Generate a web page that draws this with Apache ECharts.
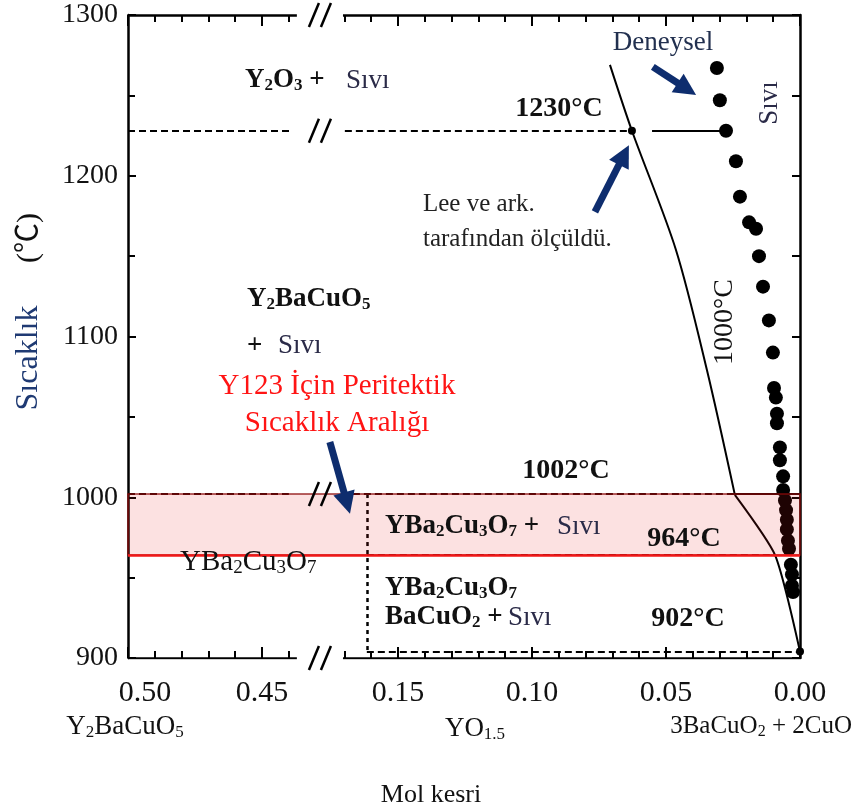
<!DOCTYPE html>
<html><head><meta charset="utf-8">
<script src="https://cdn.jsdelivr.net/npm/echarts@6/dist/echarts.min.js"></script>
<style>html,body{margin:0;padding:0;background:#fff}#c{width:857px;height:809px}</style>
</head><body><div id="c"></div>
<script>
// ---------------- data ----------------
const yTickValues = [900, 1000, 1100, 1200, 1300];
const xLabelValues = [0.50, 0.45, 0.15, 0.10, 0.05, 0.00];
const xMinorLeft = [0.49, 0.48, 0.47, 0.46, 0.44];
const xMinorRight = [0.17, 0.16, 0.14, 0.13, 0.12, 0.11, 0.09, 0.08, 0.07, 0.06, 0.04, 0.03, 0.02, 0.01];
// liquidus (solid curve): upper part and lower part (kink at 1002)
const liqUpperV = [0.0709, 0.0627, 0.0463, 0.0347, 0.0243];
const liqUpperT = [1269, 1228, 1154, 1079, 1001.5];
const liqLowerV = [0.0243, 0.0093, 0.0];
const liqLowerT = [1001.5, 964, 904];
// experimental points (Deneysel)
const expV = [0.0310, 0.0299, 0.0276, 0.0239, 0.0224, 0.0190, 0.0164, 0.0153, 0.0138, 0.0116, 0.0101, 0.0097, 0.0090, 0.0086, 0.0086, 0.0075, 0.0075, 0.0063, 0.0063, 0.0056, 0.0052, 0.0049, 0.0049, 0.0045, 0.0041, 0.0034, 0.0030, 0.0030, 0.0026];
const expT = [1267, 1247, 1228, 1209, 1187, 1171, 1167, 1150, 1131, 1110, 1090, 1068, 1062, 1052, 1046, 1031, 1023, 1013, 1004.5, 998, 992, 986, 980, 973, 968, 958, 952, 945, 941];
// small points
const smallPtV = [0.0627, 0.0];
const smallPtT = [1228, 904];
// isotherm segments [vFrom, vTo, T]
const dashedSegs = [[0.50, 0.439, 1228], [0.1698, 0.0627, 1228], [0.50, 0.440, 1002], [0.1668, 0.0243, 1002], [0.1616, 0.0093, 964], [0.1616, 0.0, 904]];
const solidSegs = [[0.0552, 0.0276, 1228], [0.0243, 0.0, 1002]];
const dottedV = [0.1616, 1002, 904]; // v, T from, T to
const bandT = [1002, 964];
// arrows [vTail, TTail, vHead, THead]
const arrows = [[0.0549, 1267.7, 0.0422, 1254], [0.0765, 1177.5, 0.0657, 1212.9], [0.1754, 1034.4, 0.1690, 996.4]];
// axis break positions (T values where the // marks are)
const breakT = [1300, 1228, 1002, 900];
const breakV = 0.1791;
// ---------------- axis break mapping ----------------
const RCUT = 0.1705, LCUT = 0.437, GAP = 0.0172;
const SHIFT = LCUT - RCUT - GAP;
const toU = v => (v < 0.3 ? v : v - SHIFT);
const fromU = u => (u > RCUT + GAP / 2 ? u + SHIFT : u);
const UMAX = toU(0.5);

const F = "'Liberation Serif','Times New Roman',serif";
const FC = "'Liberation Serif','Noto Sans CJK SC',serif";
const INK = '#111';
const NAVY = '#0e2d6e';

const chart = echarts.init(document.getElementById('c'), null, {renderer: 'canvas'});

function seg(a) { return {coords: [[toU(a[0]), a[2]], [toU(a[1]), a[2]]]}; }

function xa(pos, ticks, len, withLabels) {
  return {
    type: 'value', position: pos, min: 0, max: UMAX, inverse: true,
    axisLine: {show: false, onZero: false},
    splitLine: {show: false},
    axisTick: {show: true, inside: true, length: len, customValues: ticks.map(toU), lineStyle: {color: '#000', width: 2}},
    axisLabel: withLabels ? {
      show: true, margin: 20,
      customValues: xLabelValues.map(toU),
      formatter: u => {
        const v = fromU(u);
        const s = (Math.round(v * 100) / 100).toFixed(2);
        return Math.abs(v - 0.5) < 1e-6 ? '{p|' + s + '}' : '{n|' + s + '}';
      },
      rich: {
        p: {fontSize: 30, fontFamily: F, color: INK, padding: [0, 0, 0, 34]},
        n: {fontSize: 30, fontFamily: F, color: INK}
      }
    } : {show: false}
  };
}

function richSet(fs, fw, c) {
  return {
    m: {fontSize: fs, fontWeight: fw, fontFamily: F, fill: c, lineHeight: fs + 2},
    s: {fontSize: Math.round(fs * 0.64), fontWeight: fw, fontFamily: F, fill: c, verticalAlign: 'bottom', lineHeight: Math.round(fs * 0.5)}
  };
}
function txt(x, y, text, o) {
  o = o || {};
  return {
    type: 'text', x: x, y: y, rotation: o.rot || 0, z: 100,
    style: {
      text: text, fontFamily: o.ff || F, fontSize: o.fs || 28, fontWeight: o.fw || 'normal',
      fill: o.c || INK, align: o.al || 'left', verticalAlign: 'middle',
      textAlign: o.al || 'left', textVerticalAlign: 'middle', rich: o.rich
    }
  };
}
const RB = richSet(27, 'bold', INK);
const RN = richSet(29, 'normal', INK);
const RL = richSet(27, 'normal', INK);
const RS = richSet(25, 'normal', INK);
const SIVI = '#2b2b48';
const RED = '#ff1414';

const texts = [
  txt(245, 80, '{m|Y}{s|2}{m|O}{s|3}{m| +}', {rich: RB}),
  txt(346, 81, 'Sıvı', {fs: 27, c: SIVI}),
  txt(559, 109, '1230°C', {fw: 'bold', al: 'center'}),
  txt(663, 43, 'Deneysel', {fs: 27, c: '#22304f', al: 'center'}),
  txt(770, 103, 'Sıvı', {fs: 27, c: SIVI, al: 'center', rot: Math.PI / 2}),
  txt(423, 204, 'Lee ve ark.', {fs: 25, c: '#222'}),
  txt(423, 239, 'tarafından ölçüldü.', {fs: 25, c: '#222'}),
  txt(247, 299, '{m|Y}{s|2}{m|BaCuO}{s|5}', {rich: RB}),
  txt(247, 346, '+', {fw: 'bold', fs: 27}),
  txt(278, 346, 'Sıvı', {fs: 27, c: SIVI}),
  txt(337, 386, 'Y123 İçin Peritektik', {fs: 29, c: RED, al: 'center'}),
  txt(337, 423, 'Sıcaklık Aralığı', {fs: 29, c: RED, al: 'center'}),
  txt(566, 471, '1002°C', {fw: 'bold', al: 'center'}),
  txt(725, 322, '1000°C', {al: 'center', rot: Math.PI / 2}),
  txt(385, 526, '{m|YBa}{s|2}{m|Cu}{s|3}{m|O}{s|7}{m| +}', {rich: RB}),
  txt(557, 527, 'Sıvı', {fs: 27, c: SIVI}),
  txt(684, 539, '964°C', {fw: 'bold', al: 'center'}),
  txt(180, 562, '{m|YBa}{s|2}{m|Cu}{s|3}{m|O}{s|7}', {rich: RN}),
  txt(385, 588, '{m|YBa}{s|2}{m|Cu}{s|3}{m|O}{s|7}', {rich: RB}),
  txt(385, 617, '{m|BaCuO}{s|2}{m| +}', {rich: RB}),
  txt(508, 618, 'Sıvı', {fs: 27, c: SIVI}),
  txt(688, 619, '902°C', {fw: 'bold', al: 'center'}),
  txt(125, 727, '{m|Y}{s|2}{m|BaCuO}{s|5}', {rich: RL, al: 'center'}),
  txt(475, 729, '{m|YO}{s|1.5}', {rich: RL, al: 'center'}),
  txt(852, 726, '{m|3BaCuO}{s|2}{m| + 2CuO}', {rich: RS, al: 'right'}),
  txt(431, 795, 'Mol kesri', {fs: 26, al: 'center'}),
  txt(29, 358, 'Sıcaklık', {fs: 32, c: '#1f3a73', al: 'center', rot: Math.PI / 2}),
  txt(29, 238, '(℃)', {fs: 30, ff: FC, al: 'center', rot: Math.PI / 2})
];

const option = {
  backgroundColor: '#fff',
  animation: false,
  grid: {left: 128, top: 15, width: 672, height: 643, containLabel: false, outerBoundsMode: 'none'},
  xAxis: [
    xa('bottom', xLabelValues, 11, true),
    xa('bottom', xMinorLeft.concat(xMinorRight), 7, false),
    xa('top', xLabelValues, 11, false),
    xa('top', xMinorLeft.concat(xMinorRight), 7, false)
  ],
  yAxis: [
    {
      type: 'value', min: 900, max: 1300, interval: 100, position: 'left',
      axisLine: {show: true, onZero: false, lineStyle: {color: '#000', width: 2.5}},
      axisTick: {show: true, inside: true, length: 8, lineStyle: {color: '#000', width: 2}},
      minorTick: {show: true, splitNumber: 2, length: 7, lineStyle: {color: '#000', width: 2}},
      splitLine: {show: false}, minorSplitLine: {show: false},
      axisLabel: {fontSize: 28, fontFamily: F, color: INK, margin: 10, padding: [10, 0, 0, 0],
        formatter: v => (yTickValues.indexOf(v) >= 0 ? String(v) : '')}
    },
    {
      type: 'value', min: 900, max: 1300, interval: 50, position: 'right',
      axisLine: {show: true, onZero: false, lineStyle: {color: '#000', width: 2.5}},
      axisTick: {show: true, inside: true, length: 8, lineStyle: {color: '#000', width: 2}},
      splitLine: {show: false}, axisLabel: {show: false}
    }
  ],
  graphic: texts,
  series: [
    { // frame top/bottom with break
      type: 'lines', coordinateSystem: 'cartesian2d', z: 3, silent: true,
      lineStyle: {color: '#000', width: 2.5, opacity: 1},
      data: [[0.5, LCUT, 1300], [RCUT, 0, 1300], [0.5, LCUT, 900], [RCUT, 0, 900]].map(seg)
    },
    {
      type: 'lines', coordinateSystem: 'cartesian2d', z: 3, silent: true,
      lineStyle: {color: '#000', width: 2, type: [7, 4], opacity: 1},
      data: dashedSegs.map(seg)
    },
    {
      type: 'lines', coordinateSystem: 'cartesian2d', z: 3, silent: true,
      lineStyle: {color: '#000', width: 2, opacity: 1},
      data: solidSegs.map(seg)
    },
    {
      type: 'lines', coordinateSystem: 'cartesian2d', z: 3, silent: true,
      lineStyle: {color: '#000', width: 2.5, type: [4, 4], opacity: 1},
      data: [{coords: [[toU(dottedV[0]), dottedV[1]], [toU(dottedV[0]), dottedV[2]]]}]
    },
    {
      type: 'line', z: 3, silent: true, symbol: 'none', smooth: 0.3,
      lineStyle: {color: '#000', width: 2},
      data: liqUpperV.map((v, i) => [toU(v), liqUpperT[i]])
    },
    {
      type: 'line', z: 3, silent: true, symbol: 'none', smooth: 0.2,
      lineStyle: {color: '#000', width: 2},
      data: liqLowerV.map((v, i) => [toU(v), liqLowerT[i]])
    },
    {
      type: 'scatter', z: 4, silent: true, symbol: 'circle', symbolSize: 14,
      itemStyle: {color: '#000', opacity: 1},
      data: expV.map((v, i) => [toU(v), expT[i]])
    },
    {
      type: 'scatter', z: 4, silent: true, symbol: 'circle', symbolSize: 8,
      itemStyle: {color: '#000', opacity: 1},
      data: smallPtV.map((v, i) => [toU(v), smallPtT[i]])
    },
    { // peritectic band
      type: 'custom', z: 6, silent: true,
      renderItem: (params, api) => {
        const p1 = api.coord([api.value(0), api.value(1)]);
        const p2 = api.coord([api.value(2), api.value(3)]);
        return {type: 'rect', shape: {x: p1[0], y: p1[1], width: p2[0] - p1[0], height: p2[1] - p1[1]},
          style: {fill: 'rgba(235,20,20,0.13)', stroke: 'rgba(140,10,10,0.85)', lineWidth: 1.5}};
      },
      data: [[UMAX, bandT[0], 0, bandT[1]]]
    },
    {
      type: 'lines', coordinateSystem: 'cartesian2d', z: 7, silent: true,
      lineStyle: {color: '#f01818', width: 2.5, opacity: 1},
      data: [{coords: [[UMAX, bandT[1]], [0, bandT[1]]]}]
    },
    { // break marks
      type: 'custom', z: 8, silent: true, clip: false,
      renderItem: (params, api) => {
        const c = api.coord([api.value(0), api.value(1)]);
        return {type: 'group', children: [-6, 6].map(k => ({
          type: 'line', shape: {x1: c[0] + k - 5, y1: c[1] + 12, x2: c[0] + k + 5, y2: c[1] - 12},
          style: {stroke: '#000', lineWidth: 2.5}
        }))};
      },
      data: breakT.map(t => [toU(breakV), t])
    },
    { // arrows
      type: 'lines', coordinateSystem: 'cartesian2d', z: 9, silent: true,
      symbol: ['none', 'triangle'], symbolSize: [20, 22],
      lineStyle: {color: NAVY, width: 7, opacity: 1},
      itemStyle: {color: NAVY},
      data: arrows.map(a => ({coords: [[toU(a[0]), a[1]], [toU(a[2]), a[3]]]}))
    }
  ]
};
chart.setOption(option);
</script>
</body></html>
